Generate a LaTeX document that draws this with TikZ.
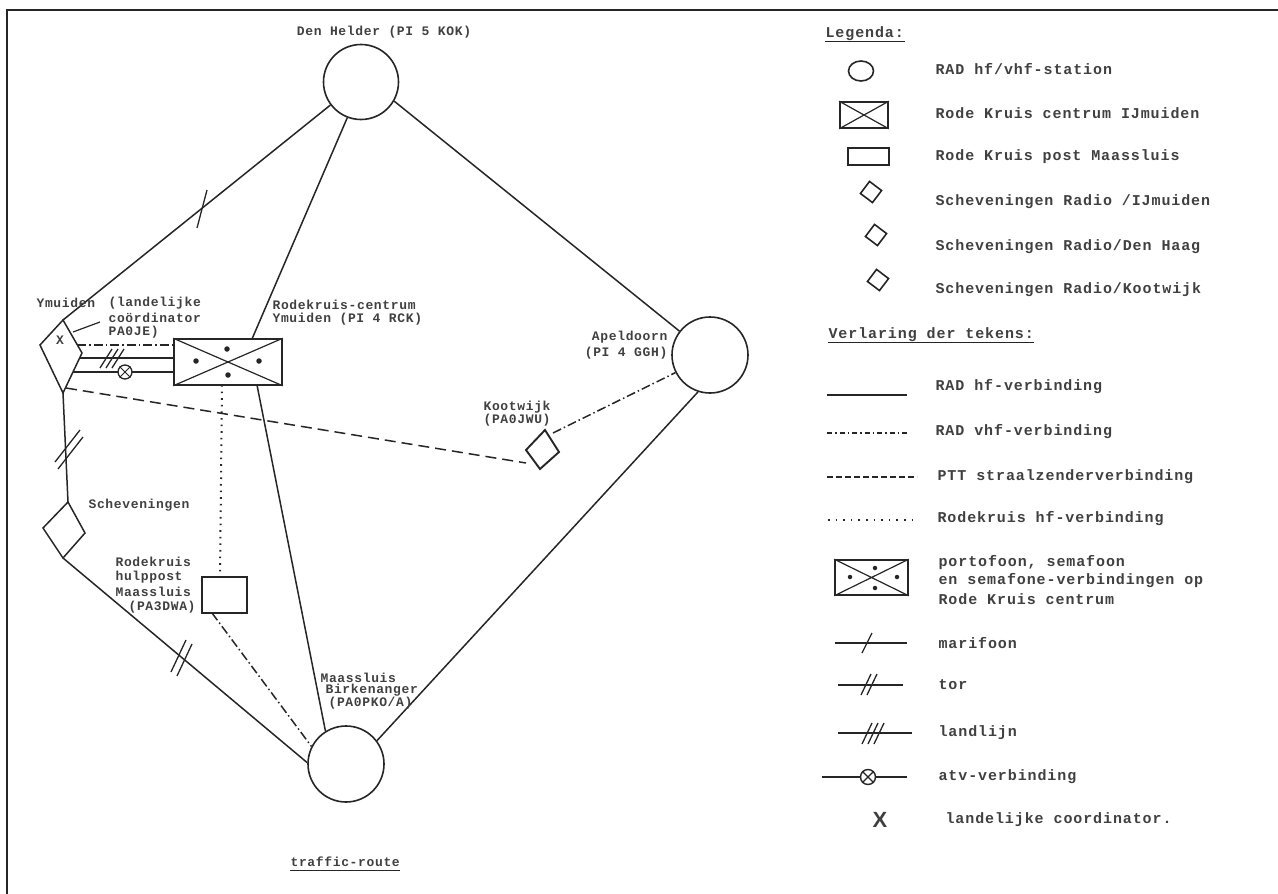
\documentclass[tikz,border=0pt]{standalone}
\usepackage{fontspec}
\usetikzlibrary{shapes.geometric}
\newfontfamily\tw[LetterSpace=5]{Liberation Mono}
\newfontfamily\twl[LetterSpace=6]{Liberation Mono}
\newfontfamily\xsans{Liberation Sans}
\begin{document}
\begin{tikzpicture}[x=1pt,y=-1pt,line width=1.2pt,
  stn/.style={circle,draw=black!85,line width=1.6pt,inner sep=0pt},
  hf/.style={draw=black!85,line width=1.5pt},
  vhf/.style={draw=black!85,line width=1.5pt,dash pattern=on 9pt off 3pt on 1.5pt off 3pt},
  ptt/.style={draw=black!85,line width=1.5pt,dash pattern=on 11pt off 6pt},
  rkhf/.style={draw=black!85,line width=2pt,dash pattern=on 1.6pt off 5pt},
  lbl/.style={font=\tw\fontsize{13}{12}\bfseries,inner sep=0pt,text=black!75},
  leg/.style={font=\twl\fontsize{15}{17}\bfseries,inner sep=0pt,text=black!75,anchor=west},
  tickmark/.style={draw=black!85,line width=1.3pt},
  dotc/.style={circle,fill=black!85,inner sep=0pt,minimum size=5.5pt},
  boxnode/.style={draw=black!85,line width=1.6pt,inner sep=0pt}
]
\useasboundingbox (0,0) rectangle (1278,894);
% frame
\draw[line width=1.2pt,black!85] (7,894) -- (7,10) -- (1278,10);

% ---------- stations ----------
\node[stn,minimum size=75pt] (dh) at (361,82) {};
\node[stn,minimum size=76pt] (ap) at (710,355) {};
\node[stn,minimum size=76pt] (ms) at (346,764) {};

\node[boxnode,minimum width=108pt,minimum height=46pt] (rkc) at (228,362) {};
\draw[black!85,line width=1.2pt] (rkc.north west) -- (rkc.south east) (rkc.south west) -- (rkc.north east);
\node[dotc] (d1) at (227,349) {};
\node[dotc] (d2) at (196,361) {};
\node[dotc] (d3) at (259,361) {};
\node[dotc] (d4) at (228,375) {};

\node[boxnode,minimum width=45pt,minimum height=36pt] (hp) at (224.5,595) {};

% IJmuiden kite
\coordinate (ijmL) at (40,345);
\coordinate (ijmT) at (63,320);
\coordinate (ijmR) at (82,353);
\coordinate (ijmB) at (63,393);
\draw[hf] (ijmL) -- (ijmT) -- (ijmR) -- (ijmB) -- cycle;
% Scheveningen
\coordinate (schT) at (68,502);
\coordinate (schR) at (85,533);
\coordinate (schB) at (63,558);
\coordinate (schL) at (43,528);
\draw[hf] (schT) -- (schR) -- (schB) -- (schL) -- cycle;
% Kootwijk
\coordinate (kwT) at (545,430);
\coordinate (kwR) at (559,452);
\coordinate (kwB) at (540,469);
\coordinate (kwL) at (526,450);
\draw[hf,line width=1.9pt] (kwT) -- (kwR) -- (kwB) -- (kwL) -- cycle;

% ---------- connectors ----------
\coordinate (rkcT) at (252,339);
\coordinate (rkcB) at (257,385);
\coordinate (rkcB1) at (222,385);
\coordinate (hpT) at (220,577);
\coordinate (hpB) at (212,613);
\draw[hf] (dh.217) -- (ijmT);
\draw[hf] (dh.249) -- (rkcT);
\draw[hf] (dh.-30) -- (ap.142);
\draw[hf] (ap.252) -- (ms.37);
\draw[hf] (rkcB) -- (ms.122);
\draw[rkhf] (rkcB1) -- (hpT);
\draw[vhf] (hpB) -- (ms.153);
\draw[hf] (ijmB) -- (schT);
\draw[hf] (schB) -- (ms.178);

\coordinate (ia) at (77,345);  \coordinate (ra) at (174,345);
\coordinate (ib) at (80,358);  \coordinate (rb) at (174,358);
\coordinate (ic) at (73,372);  \coordinate (rc) at (174,372);
\draw[vhf] (ia) -- (ra);
\draw[hf] (ib) -- (rb);
\draw[hf] (ic) -- (rc);
\coordinate (ijmD) at (66,388);
\coordinate (kwD) at (526,463);
\draw[ptt] (ijmD) -- (kwD);
\coordinate (kwV) at (553,433);
\draw[vhf] (kwV) -- (ap.207);

% marks on lines
\draw[tickmark] (197,228) -- (207,190);
\draw[tickmark] (55,462) -- (80,430) (58,469) -- (83,437);
\draw[tickmark] (171,672) -- (186,640) (177,676) -- (192,644);
\draw[tickmark] (100,368) -- (112,349) (106,368) -- (118,349) (112,368) -- (124,349);
\node[circle,draw=black!85,fill=white,line width=1.3pt,minimum size=14pt,inner sep=0pt] (atv) at (125,372) {};
\draw[black!85,line width=1pt] (atv.45) -- (atv.225) (atv.135) -- (atv.-45);

% landelijke coordinator mark
\node[lbl] (xm) at (60,340) {X};
\coordinate (ldA) at (73,332);
\coordinate (ldB) at (100,322);
\draw[black!85,line width=1.2pt] (ldA) -- (ldB);

% ---------- labels ----------
\node[lbl] (tdh) at (384,32) {Den Helder (PI 5 KOK)};
\node[lbl,anchor=west] (tym) at (36,303) {Ymuiden};
\node[lbl,anchor=west] (tl1) at (108,303) {(landelijke};
\node[lbl,anchor=west] (tl2) at (108,318) {coördinator};
\node[lbl,anchor=west] (tl3) at (108,332) {PA0JE)};
\node[lbl,anchor=west] (tr1) at (272,305) {Rodekruis-centrum};
\node[lbl,anchor=west] (tr2) at (272,319) {Ymuiden (PI 4 RCK)};
\node[lbl,anchor=east] (ta1) at (668,337) {Apeldoorn};
\node[lbl,anchor=east] (ta2) at (668,353) {(PI 4 GGH)};
\node[lbl,anchor=west] (tk1) at (483,407) {Kootwijk};
\node[lbl,anchor=west] (tk2) at (483,420) {(PA0JWU)};
\node[lbl,anchor=west] (tsc) at (88,505) {Scheveningen};
\node[lbl,anchor=west] (th1) at (115,562) {Rodekruis};
\node[lbl,anchor=west] (th2) at (115,577) {hulppost};
\node[lbl,anchor=west] (th3) at (115,592) {Maassluis};
\node[lbl,anchor=west] (th4) at (128,607) {(PA3DWA)};
\node[lbl,anchor=west] (tm1) at (320,678) {Maassluis};
\node[lbl,anchor=west] (tm2) at (325,690) {Birkenanger};
\node[lbl,anchor=west] (tm3) at (328,703) {(PA0PKO/A)};
\node[lbl,anchor=west] (ttr) at (290,862) {traffic-route};
\draw[black!85,line width=1.2pt] ([yshift=-4pt]ttr.base west) -- ([yshift=-4pt]ttr.base east);

% ---------- legend ----------
\node[leg] (lg) at (825,34) {Legenda:};
\draw[black!85,line width=1.2pt] ([yshift=-4pt]lg.base west) -- ([yshift=-4pt]lg.base east);

\node[ellipse,draw=black!85,line width=1.6pt,minimum width=25pt,minimum height=20pt,inner sep=0pt] (s1) at (861,71) {};
\node[leg] (l1) at (935,69) {RAD hf/vhf-station};

\node[boxnode,minimum width=48pt,minimum height=26pt] (s2) at (864,115) {};
\draw[black!85,line width=1.2pt] (s2.north west) -- (s2.south east) (s2.south west) -- (s2.north east);
\node[leg] (l2) at (935,113) {Rode Kruis centrum IJmuiden};

\node[boxnode,minimum width=41pt,minimum height=17pt] (s3) at (868.5,156.5) {};
\node[leg] (l3) at (935,157) {Rode Kruis post Maassluis};

\node[diamond,draw=black!85,line width=1.6pt,minimum size=22pt,inner sep=0pt,rotate=8] (s4) at (871,192) {};
\node[leg] (l4) at (935,202) {Scheveningen Radio /IJmuiden};
\node[diamond,draw=black!85,line width=1.6pt,minimum size=22pt,inner sep=0pt,rotate=8] (s5) at (876,235) {};
\node[leg] (l5) at (935,247) {Scheveningen Radio/Den Haag};
\node[diamond,draw=black!85,line width=1.6pt,minimum size=22pt,inner sep=0pt,rotate=8] (s6) at (878,280) {};
\node[leg] (l6) at (935,290) {Scheveningen Radio/Kootwijk};

\node[leg] (lv) at (828,335) {Verlaring der tekens:};
\draw[black!85,line width=1.2pt] ([yshift=-4pt]lv.base west) -- ([yshift=-4pt]lv.base east);

\coordinate (e1a) at (827,395); \coordinate (e1b) at (907,395);
\draw[hf] (e1a) -- (e1b);
\node[leg] (l7) at (935,387) {RAD hf-verbinding};
\coordinate (e2a) at (827,433); \coordinate (e2b) at (907,433);
\draw[vhf,dash pattern=on 5pt off 3pt on 1.5pt off 3pt] (e2a) -- (e2b);
\node[leg] (l8) at (935,432) {RAD vhf-verbinding};
\coordinate (e3a) at (827,477); \coordinate (e3b) at (917,477);
\draw[ptt,dash pattern=on 6pt off 3pt] (e3a) -- (e3b);
\node[leg] (l9) at (937,477) {PTT straalzenderverbinding};
\coordinate (e4a) at (828,520); \coordinate (e4b) at (912,520);
\draw[rkhf,dash pattern=on 1.6pt off 6pt] (e4a) -- (e4b);
\node[leg] (l10) at (937,519) {Rodekruis hf-verbinding};

\node[boxnode,minimum width=73pt,minimum height=35pt] (s7) at (871.5,577.5) {};
\draw[black!85,line width=1.2pt] (s7.north west) -- (s7.south east) (s7.south west) -- (s7.north east);
\node[dotc,minimum size=4.5pt] (e1) at (875,568) {};
\node[dotc,minimum size=4.5pt] (e2) at (850,577) {};
\node[dotc,minimum size=4.5pt] (e3) at (897,577) {};
\node[dotc,minimum size=4.5pt] (e4) at (875,588) {};
\node[leg] (l11) at (938,563) {portofoon, semafoon};
\node[leg] (l12) at (938,581) {en semafone-verbindingen op};
\node[leg] (l13) at (938,599) {Rode Kruis centrum};

\coordinate (e5a) at (835,643); \coordinate (e5b) at (907,643);
\draw[hf] (e5a) -- (e5b);
\draw[tickmark] (862,653) -- (872,633);
\node[leg] (l14) at (938,643) {marifoon};

\coordinate (e6a) at (838,685); \coordinate (e6b) at (903,685);
\draw[hf] (e6a) -- (e6b);
\draw[tickmark] (861,695) -- (871,674) (867,695) -- (877,674);
\node[leg] (l15) at (938,685) {tor};

\coordinate (e7a) at (838,733); \coordinate (e7b) at (912,733);
\draw[hf] (e7a) -- (e7b);
\draw[tickmark] (862,744) -- (872,723) (868,744) -- (878,723) (874,744) -- (884,723);
\node[leg] (l16) at (938,733) {landlijn};

\coordinate (e8a) at (822,777); \coordinate (e8b) at (907,777);
\draw[hf] (e8a) -- (e8b);
\node[circle,draw=black!85,fill=white,line width=1.4pt,minimum size=15pt,inner sep=0pt] (s8) at (868,777) {};
\draw[black!85,line width=1.1pt] (s8.45) -- (s8.225) (s8.135) -- (s8.-45);
\node[leg] (l17) at (938,777) {atv-verbinding};

\node[lbl,font=\xsans\fontsize{22}{22}\bfseries] (s9) at (880,820) {X};
\node[leg] (l18) at (945,820) {landelijke coordinator.};
\end{tikzpicture}
\end{document}
